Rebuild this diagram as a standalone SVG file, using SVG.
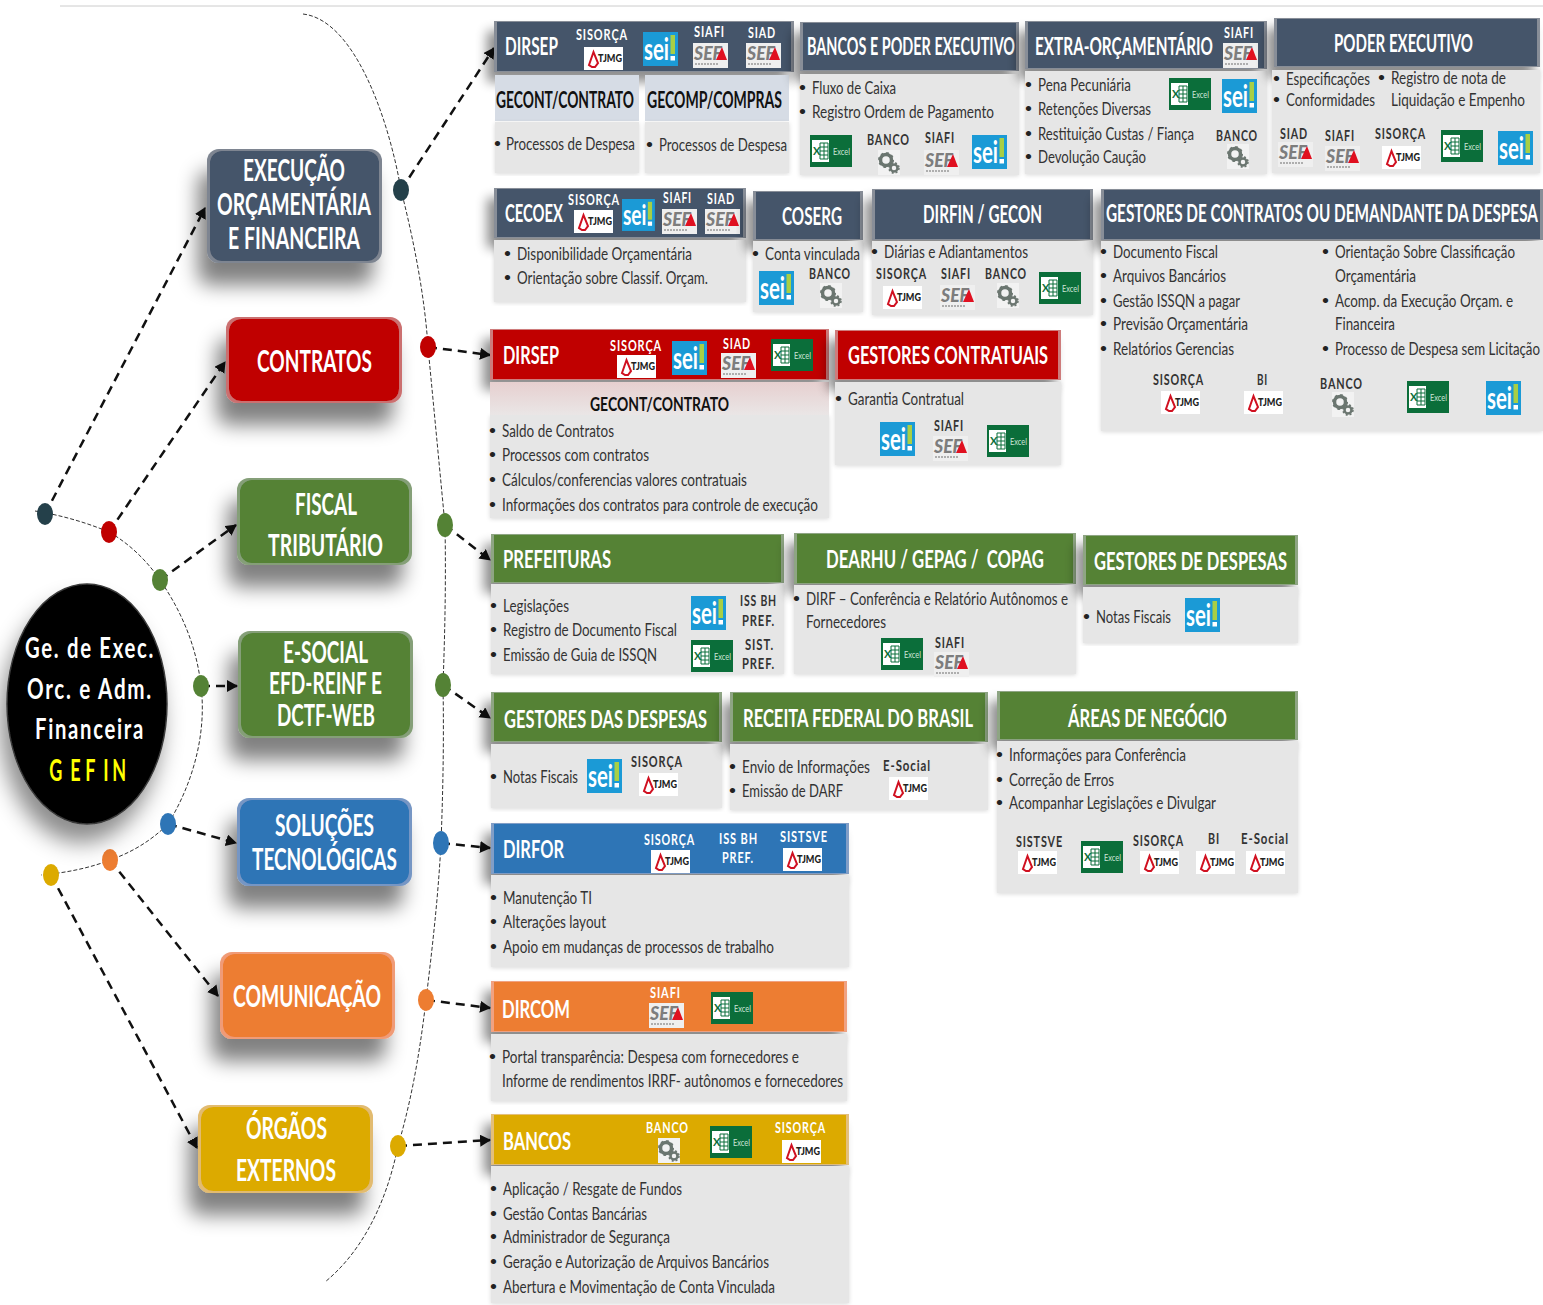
<svg xmlns="http://www.w3.org/2000/svg" width="1543" height="1305" viewBox="0 0 1543 1305">
<style>
text{font-family:Lato,"Liberation Sans",sans-serif}
.big,.h,.s,.t,.l,.lw,.c{transform-box:fill-box;transform-origin:0 100%}
.big{font-size:25px;fill:#fff;font-weight:700;transform:translateY(1px) scaleY(1.24)}
.h{font-size:19px;fill:#fff;font-weight:700;transform:translateY(1px) scaleY(1.26)}
.s{font-size:18px;fill:#111;font-weight:700;transform:translateY(1px) scaleY(1.28)}
.t{font-size:14.500px;fill:#333;transform:translateY(1px) scaleY(1.24)}
.u{font-size:12px;fill:#222;font-weight:700;transform:translate(-1px,-2px)}
.l{font-size:12.500px;fill:#333;font-weight:700;letter-spacing:1px;transform:translateY(.5px) scaleY(1.2)}
.lw{font-size:12.500px;fill:#fff;font-weight:700;letter-spacing:1px;transform:translateY(.5px) scaleY(1.2)}
.c{font-size:24px;fill:#fff;font-weight:700;letter-spacing:2px;transform:translateY(1px) scaleY(1.17)}
.g{font-size:30px;fill:#ff0;font-weight:700}
.bd{fill:#e6e6e6}
.navy{fill:#44546a}.red{fill:#c00000}.grn{fill:#548235}.blu{fill:#2e75b6}.org{fill:#ed7d31}.yel{fill:#dcaa00}
.sub{fill:#d6dce5}
.arc{fill:none;stroke:#333;stroke-width:1;stroke-dasharray:4 2}
.con{fill:none;stroke:#111;stroke-width:2.5;stroke-dasharray:9 6;marker-end:url(#ah)}
</style>
<defs>
<marker id="ah" markerUnits="userSpaceOnUse" markerWidth="12" markerHeight="14" refX="10" refY="6" orient="auto"><path d="M0 0L11 6L0 12Z" fill="#111"/></marker>
<linearGradient id="pk" x1="0" y1="0" x2="0" y2="1"><stop offset="0" stop-color="#e6cfcf"/><stop offset="1" stop-color="#eae6e6"/></linearGradient>
<filter id="sh" x="-30%" y="-30%" width="160%" height="190%">
<feMorphology in="SourceAlpha" operator="erode" radius="3 2" result="e"/><feComposite in="SourceAlpha" in2="e" operator="out" result="band"/>
<feFlood flood-color="#fff" flood-opacity=".16"/><feComposite in2="band" operator="in" result="hi"/>
<feGaussianBlur in="SourceAlpha" stdDeviation="10"/><feOffset dx="-9" dy="22"/><feComponentTransfer result="sd"><feFuncA type="linear" slope=".5"/></feComponentTransfer>
<feMerge><feMergeNode in="sd"/><feMergeNode in="SourceGraphic"/><feMergeNode in="hi"/></feMerge></filter>
<filter id="hb" x="-15%" y="-30%" width="130%" height="190%">
<feMorphology in="SourceAlpha" operator="erode" radius="3 1" result="e"/><feComposite in="SourceAlpha" in2="e" operator="out" result="band"/>
<feFlood flood-color="#fff" flood-opacity=".2"/><feComposite in2="band" operator="in" result="hi"/>
<feGaussianBlur in="SourceAlpha" stdDeviation="6"/><feOffset dx="-7" dy="10"/><feComponentTransfer result="sd"><feFuncA type="linear" slope=".45"/></feComponentTransfer>
<feMerge><feMergeNode in="sd"/><feMergeNode in="SourceGraphic"/><feMergeNode in="hi"/></feMerge></filter>
<filter id="csh" x="-30%" y="-30%" width="160%" height="160%"><feDropShadow dx="-6" dy="18" stdDeviation="11" flood-color="#000" flood-opacity=".45"/></filter>
<filter id="bs" x="-5%" y="-5%" width="110%" height="110%"><feDropShadow dx="0" dy="1" stdDeviation="2" flood-color="#000" flood-opacity=".15"/></filter>
<g id="sei"><rect width="35" height="34" fill="#1b9ad6"/><text x="1" y="28" font-size="31" font-weight="700" fill="#fff" textLength="25" lengthAdjust="spacingAndGlyphs">sei</text><rect x="27.500" y="3" width="4.500" height="19" fill="#a8cf45"/><rect x="27.500" y="24" width="4.500" height="4.500" fill="#fff"/></g>
<g id="xl"><rect width="42" height="32" fill="#0b6e3a"/><rect x="2" y="5" width="17" height="22" fill="#fff"/><path d="M10 8h8v16h-8zM10 12h8M10 16h8M10 20h8M14 8v16" fill="none" stroke="#0b6e3a" stroke-width="1"/><text x="3" y="20" font-size="11" font-weight="700" fill="#0b6e3a">X</text><text x="23" y="20" font-size="10" fill="#cfe5d8" textLength="17" lengthAdjust="spacingAndGlyphs">Excel</text></g>
<g id="sef"><rect width="35" height="25" fill="#efefef"/><text x="1" y="17" font-size="18" font-weight="900" font-style="italic" fill="#7d7d7d" textLength="28" lengthAdjust="spacingAndGlyphs">SEF</text><path d="M2 21h24" stroke="#999" stroke-width="1.500" stroke-dasharray="2 1"/><path d="M23 17L29 4L34 17Z" fill="#e01020"/></g>
<g id="tj"><rect width="39" height="23" fill="#fff"/><path d="M5 18L9.500 5L14 16L11 20H8Z" fill="none" stroke="#d01020" stroke-width="2"/><text x="14" y="15" font-size="11" font-weight="900" fill="#222" textLength="24" lengthAdjust="spacingAndGlyphs">TJMG</text></g>
<g id="ge"><rect width="22" height="25" fill="#f2f2f2"/><circle cx="8" cy="10" r="5.500" fill="none" stroke="#6b7670" stroke-width="3.500"/><circle cx="8" cy="10" r="7" fill="none" stroke="#6b7670" stroke-width="2" stroke-dasharray="2.500 3"/><circle cx="16" cy="18" r="3.500" fill="none" stroke="#6b7670" stroke-width="2.500"/><circle cx="16" cy="18" r="5" fill="none" stroke="#6b7670" stroke-width="1.500" stroke-dasharray="2 2"/></g>
</defs>
<rect width="1543" height="1305" fill="#fff"/>
<path d="M60 6H1543" stroke="#ccc" stroke-width="1"/>

<g id="connectors">
<path class="arc" d="M35 511C60 515 85 522 109 532C130 544 148 562 160 580C184 615 197 650 201 686C207 735 192 785 168 824C150 842 130 853 110 860C90 868 65 873 41 875"/>
<path class="arc" d="M303 14C355 20 389 120 401 190C415 245 425 300 428 347L445 525C446 580 445 630 443 685C444 740 443 790 441 843C438 900 432 950 426 1000C419 1060 410 1105 398 1146C385 1210 358 1255 325 1282"/>
<path class="con" d="M45 514L205 208"/>
<path class="con" d="M109 532L225 362"/>
<path class="con" d="M160 580L236 525"/>
<path class="con" d="M201 686L237 686"/>
<path class="con" d="M168 824L236 843"/>
<path class="con" d="M110 860L218 996"/>
<path class="con" d="M51 875L197 1148"/>
<path class="con" d="M401 190L494 48"/>
<path class="con" d="M428 347L490 355"/>
<path class="con" d="M445 525L490 560"/>
<path class="con" d="M443 685L490 718"/>
<path class="con" d="M441 843L490 848"/>
<path class="con" d="M426 1000L490 1008"/>
<path class="con" d="M398 1146L490 1140"/>
</g>

<g id="dots">
<ellipse cx="45" cy="514" rx="8" ry="11" fill="#24404a"/>
<ellipse cx="109" cy="532" rx="8" ry="11" fill="#c00000"/>
<ellipse cx="160" cy="580" rx="8" ry="11" fill="#548235"/>
<ellipse cx="201" cy="686" rx="8" ry="11" fill="#548235"/>
<ellipse cx="168" cy="824" rx="8" ry="11" fill="#2e75b6"/>
<ellipse cx="110" cy="860" rx="8" ry="11" fill="#ed7d31"/>
<ellipse cx="51" cy="875" rx="8" ry="11" fill="#dcaa00"/>
<ellipse cx="401" cy="190" rx="8" ry="11" fill="#24404a"/>
<ellipse cx="428" cy="347" rx="8" ry="11" fill="#c00000"/>
<ellipse cx="445" cy="525" rx="8" ry="12" fill="#548235"/>
<ellipse cx="443" cy="685" rx="8" ry="12" fill="#548235"/>
<ellipse cx="441" cy="843" rx="8" ry="12" fill="#2e75b6"/>
<ellipse cx="426" cy="1000" rx="8" ry="11" fill="#ed7d31"/>
<ellipse cx="398" cy="1146" rx="8" ry="11" fill="#dcaa00"/>
</g>

<g id="gefin">
<ellipse cx="87" cy="704" rx="80" ry="120" fill="#000" stroke="#3a3a3a" stroke-width="1.500" filter="url(#csh)"/>
<text class="c" x="25" y="658" textLength="130" lengthAdjust="spacingAndGlyphs">Ge. de Exec.</text>
<text class="c" x="27" y="699" textLength="126" lengthAdjust="spacingAndGlyphs">Orc. e Adm.</text>
<text class="c" x="35" y="739" textLength="110" lengthAdjust="spacingAndGlyphs">Financeira</text>
<text class="g" x="82 117 142 172 187" y="781" transform="scale(.6 1)">GEFIN</text>
</g>

<g id="n-execucao">
<rect class="navy" x="207" y="149" width="175" height="114" rx="12" filter="url(#sh)"/>
<text class="big" x="243" y="181" textLength="102" lengthAdjust="spacingAndGlyphs">EXECUÇÃO</text>
<text class="big" x="217" y="215" textLength="154" lengthAdjust="spacingAndGlyphs">ORÇAMENTÁRIA</text>
<text class="big" x="228" y="249" textLength="132" lengthAdjust="spacingAndGlyphs">E FINANCEIRA</text>
</g>
<g id="n-contratos">
<rect class="red" x="226" y="317" width="176" height="86" rx="12" filter="url(#sh)"/>
<text class="big" x="257" y="372" textLength="115" lengthAdjust="spacingAndGlyphs">CONTRATOS</text>
</g>
<g id="n-fiscal">
<rect class="grn" x="237" y="478" width="175" height="87" rx="12" filter="url(#sh)"/>
<text class="big" x="295" y="515" textLength="62" lengthAdjust="spacingAndGlyphs">FISCAL</text>
<text class="big" x="268" y="556" textLength="115" lengthAdjust="spacingAndGlyphs">TRIBUTÁRIO</text>
</g>
<g id="n-esocial">
<rect class="grn" x="238" y="631" width="175" height="107" rx="12" filter="url(#sh)"/>
<text class="big" x="283" y="663" textLength="85" lengthAdjust="spacingAndGlyphs">E-SOCIAL</text>
<text class="big" x="269" y="694" textLength="113" lengthAdjust="spacingAndGlyphs">EFD-REINF E</text>
<text class="big" x="277" y="726" textLength="98" lengthAdjust="spacingAndGlyphs">DCTF-WEB</text>
</g>
<g id="n-solucoes">
<rect class="blu" x="237" y="798" width="175" height="88" rx="12" filter="url(#sh)"/>
<text class="big" x="275" y="836" textLength="99" lengthAdjust="spacingAndGlyphs">SOLUÇÕES</text>
<text class="big" x="252" y="870" textLength="145" lengthAdjust="spacingAndGlyphs">TECNOLÓGICAS</text>
</g>
<g id="n-comunicacao">
<rect class="org" x="220" y="952" width="175" height="87" rx="12" filter="url(#sh)"/>
<text class="big" x="233" y="1007" textLength="148" lengthAdjust="spacingAndGlyphs">COMUNICAÇÃO</text>
</g>
<g id="n-orgaos">
<rect class="yel" x="198" y="1105" width="175" height="88" rx="12" filter="url(#sh)"/>
<text class="big" x="246" y="1139" textLength="81" lengthAdjust="spacingAndGlyphs">ÓRGÃOS</text>
<text class="big" x="236" y="1181" textLength="100" lengthAdjust="spacingAndGlyphs">EXTERNOS</text>
</g>

<g id="c-dirsep">
<rect class="navy" x="494" y="21" width="300" height="51" filter="url(#hb)"/>
<text class="h" x="505" y="55" textLength="53" lengthAdjust="spacingAndGlyphs">DIRSEP</text>
<text class="lw" x="576" y="40" textLength="52" lengthAdjust="spacingAndGlyphs">SISORÇA</text><use href="#tj" x="584" y="47"/>
<use href="#sei" x="643" y="32"/>
<text class="lw" x="694" y="37" textLength="31" lengthAdjust="spacingAndGlyphs">SIAFI</text><use href="#sef" x="693" y="43"/>
<text class="lw" x="748" y="38" textLength="28" lengthAdjust="spacingAndGlyphs">SIAD</text><use href="#sef" x="746" y="43"/>
<rect class="sub" x="495" y="75" width="144" height="46"/><rect class="bd" x="495" y="122" width="144" height="51" filter="url(#bs)"/>
<text class="s" x="496" y="108" textLength="138" lengthAdjust="spacingAndGlyphs">GECONT/CONTRATO</text>
<text class="u" x="495" y="149">•</text><text class="t" x="506" y="150" textLength="129" lengthAdjust="spacingAndGlyphs">Processos de Despesa</text>
<rect class="sub" x="645" y="75" width="144" height="46"/><rect class="bd" x="645" y="122" width="144" height="51" filter="url(#bs)"/>
<text class="s" x="647" y="108" textLength="135" lengthAdjust="spacingAndGlyphs">GECOMP/COMPRAS</text>
<text class="u" x="647" y="150">•</text><text class="t" x="659" y="151" textLength="128" lengthAdjust="spacingAndGlyphs">Processos de Despesa</text>
</g>

<g id="c-bancos-pe">
<rect class="navy" x="800" y="22" width="219" height="49" filter="url(#hb)"/>
<rect class="bd" x="800" y="74" width="219" height="101" filter="url(#bs)"/>
<text class="h" x="807" y="55" textLength="208" lengthAdjust="spacingAndGlyphs">BANCOS E PODER EXECUTIVO</text>
<text class="u" x="800" y="93">•</text><text class="t" x="812" y="94" textLength="84" lengthAdjust="spacingAndGlyphs">Fluxo de Caixa</text>
<text class="u" x="800" y="117">•</text><text class="t" x="812" y="118" textLength="182" lengthAdjust="spacingAndGlyphs">Registro Ordem de Pagamento</text>
<use href="#xl" x="810" y="135"/>
<text class="l" x="867" y="145" textLength="43" lengthAdjust="spacingAndGlyphs">BANCO</text><use href="#ge" x="878" y="150"/>
<text class="l" x="925" y="143" textLength="30" lengthAdjust="spacingAndGlyphs">SIAFI</text><use href="#sef" x="924" y="150"/>
<use href="#sei" x="972" y="135"/>
</g>

<g id="c-extra">
<rect class="navy" x="1025" y="21" width="242" height="48" filter="url(#hb)"/>
<rect class="bd" x="1025" y="71" width="242" height="103" filter="url(#bs)"/>
<text class="h" x="1035" y="55" textLength="178" lengthAdjust="spacingAndGlyphs">EXTRA-ORÇAMENTÁRIO</text>
<text class="lw" x="1224" y="38" textLength="30" lengthAdjust="spacingAndGlyphs">SIAFI</text><use href="#sef" x="1223" y="43"/>
<text class="u" x="1026" y="90">•</text><text class="t" x="1038" y="91" textLength="93" lengthAdjust="spacingAndGlyphs">Pena Pecuniária</text>
<text class="u" x="1026" y="114">•</text><text class="t" x="1038" y="115" textLength="113" lengthAdjust="spacingAndGlyphs">Retenções Diversas</text>
<text class="u" x="1026" y="139">•</text><text class="t" x="1038" y="140" textLength="156" lengthAdjust="spacingAndGlyphs">Restituição Custas / Fiança</text>
<text class="u" x="1026" y="162">•</text><text class="t" x="1038" y="163" textLength="108" lengthAdjust="spacingAndGlyphs">Devolução Caução</text>
<use href="#xl" x="1169" y="78"/><use href="#sei" x="1222" y="79"/>
<text class="l" x="1216" y="141" textLength="42" lengthAdjust="spacingAndGlyphs">BANCO</text><use href="#ge" x="1227" y="144"/>
</g>

<g id="c-poder">
<rect class="navy" x="1274" y="18" width="266" height="49" filter="url(#hb)"/>
<rect class="bd" x="1272" y="70" width="268" height="103" filter="url(#bs)"/>
<text class="h" x="1334" y="52" textLength="139" lengthAdjust="spacingAndGlyphs">PODER EXECUTIVO</text>
<text class="u" x="1274" y="84">•</text><text class="t" x="1286" y="85" textLength="84" lengthAdjust="spacingAndGlyphs">Especificações</text>
<text class="u" x="1274" y="105">•</text><text class="t" x="1286" y="106" textLength="89" lengthAdjust="spacingAndGlyphs">Conformidades</text>
<text class="u" x="1379" y="83">•</text><text class="t" x="1391" y="84" textLength="115" lengthAdjust="spacingAndGlyphs">Registro de nota de</text>
<text class="t" x="1391" y="106" textLength="134" lengthAdjust="spacingAndGlyphs">Liquidação e Empenho</text>
<text class="l" x="1280" y="139" textLength="28" lengthAdjust="spacingAndGlyphs">SIAD</text><use href="#sef" x="1278" y="142"/>
<text class="l" x="1325" y="141" textLength="30" lengthAdjust="spacingAndGlyphs">SIAFI</text><use href="#sef" x="1325" y="146"/>
<text class="l" x="1375" y="139" textLength="51" lengthAdjust="spacingAndGlyphs">SISORÇA</text><use href="#tj" x="1382" y="146"/>
<use href="#xl" x="1441" y="130"/><use href="#sei" x="1498" y="131"/>
</g>

<g id="c-cecoex">
<rect class="navy" x="494" y="188" width="252" height="50" filter="url(#hb)"/>
<rect class="bd" x="494" y="240" width="252" height="62" filter="url(#bs)"/>
<text class="h" x="505" y="222" textLength="58" lengthAdjust="spacingAndGlyphs">CECOEX</text>
<text class="lw" x="568" y="205" textLength="52" lengthAdjust="spacingAndGlyphs">SISORÇA</text><use href="#tj" x="574" y="210"/>
<use href="#sei" transform="translate(622 199) scale(.94)"/>
<text class="lw" x="663" y="203" textLength="29" lengthAdjust="spacingAndGlyphs">SIAFI</text><use href="#sef" x="662" y="209"/>
<text class="lw" x="707" y="204" textLength="28" lengthAdjust="spacingAndGlyphs">SIAD</text><use href="#sef" x="705" y="209"/>
<text class="u" x="505" y="259">•</text><text class="t" x="517" y="260" textLength="175" lengthAdjust="spacingAndGlyphs">Disponibilidade Orçamentária</text>
<text class="u" x="505" y="283">•</text><text class="t" x="517" y="284" textLength="191" lengthAdjust="spacingAndGlyphs">Orientação sobre Classif. Orçam.</text>
</g>

<g id="c-coserg">
<rect class="navy" x="753" y="191" width="110" height="49" filter="url(#hb)"/>
<rect class="bd" x="753" y="241" width="110" height="71" filter="url(#bs)"/>
<text class="h" x="782" y="225" textLength="60" lengthAdjust="spacingAndGlyphs">COSERG</text>
<text class="u" x="753" y="259">•</text><text class="t" x="765" y="260" textLength="95" lengthAdjust="spacingAndGlyphs">Conta vinculada</text>
<use href="#sei" x="759" y="271"/>
<text class="l" x="809" y="279" textLength="42" lengthAdjust="spacingAndGlyphs">BANCO</text><use href="#ge" x="820" y="283"/>
</g>

<g id="c-dirfin">
<rect class="navy" x="872" y="189" width="221" height="51" filter="url(#hb)"/>
<rect class="bd" x="872" y="241" width="221" height="74" filter="url(#bs)"/>
<text class="h" x="923" y="223" textLength="119" lengthAdjust="spacingAndGlyphs">DIRFIN / GECON</text>
<text class="u" x="872" y="257">•</text><text class="t" x="884" y="258" textLength="144" lengthAdjust="spacingAndGlyphs">Diárias e Adiantamentos</text>
<text class="l" x="876" y="279" textLength="51" lengthAdjust="spacingAndGlyphs">SISORÇA</text><use href="#tj" x="883" y="286"/>
<text class="l" x="941" y="279" textLength="30" lengthAdjust="spacingAndGlyphs">SIAFI</text><use href="#sef" x="940" y="285"/>
<text class="l" x="985" y="279" textLength="42" lengthAdjust="spacingAndGlyphs">BANCO</text><use href="#ge" x="997" y="283"/>
<use href="#xl" x="1039" y="272"/>
</g>

<g id="c-gestores-contratos">
<rect class="navy" x="1101" y="189" width="442" height="51" filter="url(#hb)"/>
<rect class="bd" x="1101" y="241" width="442" height="190" filter="url(#bs)"/>
<text class="h" x="1106" y="222" textLength="432" lengthAdjust="spacingAndGlyphs">GESTORES DE CONTRATOS OU DEMANDANTE DA DESPESA</text>
<text class="u" x="1101" y="257">•</text><text class="t" x="1113" y="258" textLength="105" lengthAdjust="spacingAndGlyphs">Documento Fiscal</text>
<text class="u" x="1101" y="281">•</text><text class="t" x="1113" y="282" textLength="113" lengthAdjust="spacingAndGlyphs">Arquivos Bancários</text>
<text class="u" x="1101" y="306">•</text><text class="t" x="1113" y="307" textLength="127" lengthAdjust="spacingAndGlyphs">Gestão ISSQN a pagar</text>
<text class="u" x="1101" y="329">•</text><text class="t" x="1113" y="330" textLength="135" lengthAdjust="spacingAndGlyphs">Previsão Orçamentária</text>
<text class="u" x="1101" y="354">•</text><text class="t" x="1113" y="355" textLength="121" lengthAdjust="spacingAndGlyphs">Relatórios Gerencias</text>
<text class="u" x="1323" y="257">•</text><text class="t" x="1335" y="258" textLength="180" lengthAdjust="spacingAndGlyphs">Orientação Sobre Classificação</text>
<text class="t" x="1335" y="282" textLength="81" lengthAdjust="spacingAndGlyphs">Orçamentária</text>
<text class="u" x="1323" y="306">•</text><text class="t" x="1335" y="307" textLength="178" lengthAdjust="spacingAndGlyphs">Acomp. da Execução Orçam. e</text>
<text class="t" x="1335" y="330" textLength="60" lengthAdjust="spacingAndGlyphs">Financeira</text>
<text class="u" x="1323" y="354">•</text><text class="t" x="1335" y="355" textLength="205" lengthAdjust="spacingAndGlyphs">Processo de Despesa sem Licitação</text>
<text class="l" x="1153" y="385" textLength="51" lengthAdjust="spacingAndGlyphs">SISORÇA</text><use href="#tj" x="1161" y="391"/>
<text class="l" x="1257" y="385" textLength="11" lengthAdjust="spacingAndGlyphs">BI</text><use href="#tj" x="1244" y="391"/>
<text class="l" x="1320" y="389" textLength="43" lengthAdjust="spacingAndGlyphs">BANCO</text><use href="#ge" x="1332" y="392"/>
<use href="#xl" x="1407" y="381"/><use href="#sei" x="1486" y="381"/>
</g>

<g id="c-dirsep-red">
<rect class="red" x="490" y="329" width="339" height="51" filter="url(#hb)"/>
<rect class="bd" x="490" y="415" width="339" height="103" filter="url(#bs)"/>
<rect x="490" y="382" width="339" height="33" fill="url(#pk)"/>
<text class="h" x="503" y="364" textLength="56" lengthAdjust="spacingAndGlyphs">DIRSEP</text>
<text class="lw" x="610" y="351" textLength="52" lengthAdjust="spacingAndGlyphs">SISORÇA</text><use href="#tj" x="617" y="355"/>
<use href="#sei" x="672" y="341"/>
<text class="lw" x="723" y="349" textLength="28" lengthAdjust="spacingAndGlyphs">SIAD</text><use href="#sef" x="721" y="353"/>
<use href="#xl" x="771" y="339"/>
<text class="s" x="590" y="411" textLength="139" lengthAdjust="spacingAndGlyphs" style="font-size:15px">GECONT/CONTRATO</text>
<text class="u" x="490" y="436">•</text><text class="t" x="502" y="437" textLength="112" lengthAdjust="spacingAndGlyphs">Saldo de Contratos</text>
<text class="u" x="490" y="460">•</text><text class="t" x="502" y="461" textLength="147" lengthAdjust="spacingAndGlyphs">Processos com contratos</text>
<text class="u" x="490" y="485">•</text><text class="t" x="502" y="486" textLength="245" lengthAdjust="spacingAndGlyphs">Cálculos/conferencias valores contratuais</text>
<text class="u" x="490" y="510">•</text><text class="t" x="502" y="511" textLength="316" lengthAdjust="spacingAndGlyphs">Informações dos contratos para controle de execução</text>
</g>

<g id="c-gestores-contratuais">
<rect class="red" x="835" y="330" width="226" height="50" filter="url(#hb)"/>
<rect class="bd" x="835" y="382" width="226" height="83" filter="url(#bs)"/>
<text class="h" x="848" y="364" textLength="200" lengthAdjust="spacingAndGlyphs">GESTORES CONTRATUAIS</text>
<text class="u" x="836" y="404">•</text><text class="t" x="848" y="405" textLength="116" lengthAdjust="spacingAndGlyphs">Garantia Contratual</text>
<use href="#sei" x="880" y="422"/>
<text class="l" x="934" y="431" textLength="30" lengthAdjust="spacingAndGlyphs">SIAFI</text><use href="#sef" x="933" y="436"/>
<use href="#xl" x="987" y="425"/>
</g>

<g id="c-prefeituras">
<rect class="grn" x="491" y="534" width="293" height="49" filter="url(#hb)"/>
<rect class="bd" x="491" y="584" width="293" height="90" filter="url(#bs)"/>
<text class="h" x="503" y="568" textLength="108" lengthAdjust="spacingAndGlyphs">PREFEITURAS</text>
<text class="u" x="491" y="611">•</text><text class="t" x="503" y="612" textLength="66" lengthAdjust="spacingAndGlyphs">Legislações</text>
<text class="u" x="491" y="635">•</text><text class="t" x="503" y="636" textLength="174" lengthAdjust="spacingAndGlyphs">Registro de Documento Fiscal</text>
<text class="u" x="491" y="660">•</text><text class="t" x="503" y="661" textLength="154" lengthAdjust="spacingAndGlyphs">Emissão de Guia de ISSQN</text>
<use href="#sei" x="691" y="596"/><use href="#xl" x="691" y="640"/>
<text class="l" x="740" y="606" textLength="37" lengthAdjust="spacingAndGlyphs">ISS BH</text>
<text class="l" x="742" y="626" textLength="33" lengthAdjust="spacingAndGlyphs">PREF.</text>
<text class="l" x="745" y="650" textLength="29" lengthAdjust="spacingAndGlyphs">SIST.</text>
<text class="l" x="742" y="669" textLength="33" lengthAdjust="spacingAndGlyphs">PREF.</text>
</g>

<g id="c-dearhu">
<rect class="grn" x="794" y="533" width="282" height="51" filter="url(#hb)"/>
<rect class="bd" x="794" y="585" width="282" height="89" filter="url(#bs)"/>
<text class="h" x="826" y="568" textLength="218" lengthAdjust="spacingAndGlyphs" xml:space="preserve">DEARHU / GEPAG /  COPAG</text>
<text class="u" x="794" y="604">•</text><text class="t" x="806" y="605" textLength="262" lengthAdjust="spacingAndGlyphs">DIRF – Conferência e Relatório Autônomos e</text>
<text class="t" x="806" y="628" textLength="80" lengthAdjust="spacingAndGlyphs">Fornecedores</text>
<use href="#xl" x="881" y="638"/>
<text class="l" x="935" y="648" textLength="30" lengthAdjust="spacingAndGlyphs">SIAFI</text><use href="#sef" x="934" y="652"/>
</g>

<g id="c-gestores-despesas">
<rect class="grn" x="1083" y="535" width="215" height="50" filter="url(#hb)"/>
<rect class="bd" x="1083" y="587" width="215" height="56" filter="url(#bs)"/>
<text class="h" x="1094" y="570" textLength="193" lengthAdjust="spacingAndGlyphs">GESTORES DE DESPESAS</text>
<text class="u" x="1084" y="622">•</text><text class="t" x="1096" y="623" textLength="75" lengthAdjust="spacingAndGlyphs">Notas Fiscais</text>
<use href="#sei" x="1185" y="598"/>
</g>

<g id="c-gestores-das">
<rect class="grn" x="491" y="692" width="231" height="50" filter="url(#hb)"/>
<rect class="bd" x="491" y="744" width="231" height="64" filter="url(#bs)"/>
<text class="h" x="504" y="728" textLength="203" lengthAdjust="spacingAndGlyphs">GESTORES DAS DESPESAS</text>
<text class="u" x="491" y="782">•</text><text class="t" x="503" y="783" textLength="75" lengthAdjust="spacingAndGlyphs">Notas Fiscais</text>
<use href="#sei" x="587" y="759"/>
<text class="l" x="631" y="767" textLength="52" lengthAdjust="spacingAndGlyphs">SISORÇA</text><use href="#tj" x="639" y="773"/>
</g>

<g id="c-receita">
<rect class="grn" x="730" y="692" width="258" height="50" filter="url(#hb)"/>
<rect class="bd" x="730" y="744" width="258" height="66" filter="url(#bs)"/>
<text class="h" x="743" y="727" textLength="230" lengthAdjust="spacingAndGlyphs">RECEITA FEDERAL DO BRASIL</text>
<text class="u" x="730" y="772">•</text><text class="t" x="742" y="773" textLength="128" lengthAdjust="spacingAndGlyphs">Envio de Informações</text>
<text class="u" x="730" y="796">•</text><text class="t" x="742" y="797" textLength="101" lengthAdjust="spacingAndGlyphs">Emissão de DARF</text>
<text class="l" x="883" y="771" textLength="48" lengthAdjust="spacingAndGlyphs">E-Social</text><use href="#tj" x="889" y="777"/>
</g>

<g id="c-areas">
<rect class="grn" x="997" y="691" width="301" height="49" filter="url(#hb)"/>
<rect class="bd" x="997" y="741" width="301" height="152" filter="url(#bs)"/>
<text class="h" x="1068" y="727" textLength="159" lengthAdjust="spacingAndGlyphs">ÁREAS DE NEGÓCIO</text>
<text class="u" x="997" y="760">•</text><text class="t" x="1009" y="761" textLength="177" lengthAdjust="spacingAndGlyphs">Informações para Conferência</text>
<text class="u" x="997" y="785">•</text><text class="t" x="1009" y="786" textLength="105" lengthAdjust="spacingAndGlyphs">Correção de Erros</text>
<text class="u" x="997" y="808">•</text><text class="t" x="1009" y="809" textLength="207" lengthAdjust="spacingAndGlyphs">Acompanhar Legislações e Divulgar</text>
<text class="l" x="1016" y="847" textLength="47" lengthAdjust="spacingAndGlyphs">SISTSVE</text><use href="#tj" x="1018" y="851"/>
<use href="#xl" x="1081" y="841"/>
<text class="l" x="1133" y="846" textLength="51" lengthAdjust="spacingAndGlyphs">SISORÇA</text><use href="#tj" x="1140" y="851"/>
<text class="l" x="1208" y="844" textLength="12" lengthAdjust="spacingAndGlyphs">BI</text><use href="#tj" x="1196" y="851"/>
<text class="l" x="1241" y="844" textLength="48" lengthAdjust="spacingAndGlyphs">E-Social</text><use href="#tj" x="1246" y="851"/>
</g>

<g id="c-dirfor">
<rect class="blu" x="491" y="823" width="358" height="51" filter="url(#hb)"/>
<rect class="bd" x="491" y="875" width="358" height="92" filter="url(#bs)"/>
<text class="h" x="503" y="858" textLength="61" lengthAdjust="spacingAndGlyphs">DIRFOR</text>
<text class="lw" x="644" y="845" textLength="51" lengthAdjust="spacingAndGlyphs">SISORÇA</text><use href="#tj" x="651" y="850"/>
<text class="lw" x="719" y="844" textLength="39" lengthAdjust="spacingAndGlyphs">ISS BH</text>
<text class="lw" x="722" y="863" textLength="32" lengthAdjust="spacingAndGlyphs">PREF.</text>
<text class="lw" x="780" y="842" textLength="48" lengthAdjust="spacingAndGlyphs">SISTSVE</text><use href="#tj" x="783" y="848"/>
<text class="u" x="491" y="903">•</text><text class="t" x="503" y="904" textLength="89" lengthAdjust="spacingAndGlyphs">Manutenção TI</text>
<text class="u" x="491" y="927">•</text><text class="t" x="503" y="928" textLength="103" lengthAdjust="spacingAndGlyphs">Alterações layout</text>
<text class="u" x="491" y="952">•</text><text class="t" x="503" y="953" textLength="271" lengthAdjust="spacingAndGlyphs">Apoio em mudanças de processos de trabalho</text>
</g>

<g id="c-dircom">
<rect class="org" x="491" y="981" width="356" height="51" filter="url(#hb)"/>
<rect class="bd" x="491" y="1034" width="356" height="67" filter="url(#bs)"/>
<text class="h" x="502" y="1018" textLength="68" lengthAdjust="spacingAndGlyphs">DIRCOM</text>
<text class="lw" x="650" y="998" textLength="31" lengthAdjust="spacingAndGlyphs">SIAFI</text><use href="#sef" x="649" y="1003"/>
<use href="#xl" x="711" y="992"/>
<text class="u" x="490" y="1062">•</text><text class="t" x="502" y="1063" textLength="297" lengthAdjust="spacingAndGlyphs">Portal transparência: Despesa com fornecedores e</text>
<text class="t" x="502" y="1087" textLength="341" lengthAdjust="spacingAndGlyphs">Informe de rendimentos IRRF- autônomos e fornecedores</text>
</g>

<g id="c-bancos">
<rect class="yel" x="491" y="1114" width="358" height="51" filter="url(#hb)"/>
<rect class="bd" x="491" y="1166" width="358" height="137" filter="url(#bs)"/>
<text class="h" x="503" y="1150" textLength="68" lengthAdjust="spacingAndGlyphs">BANCOS</text>
<text class="lw" x="646" y="1133" textLength="43" lengthAdjust="spacingAndGlyphs">BANCO</text><use href="#ge" x="658" y="1138"/>
<use href="#xl" x="710" y="1126"/>
<text class="lw" x="775" y="1133" textLength="51" lengthAdjust="spacingAndGlyphs">SISORÇA</text><use href="#tj" x="782" y="1140"/>
<text class="u" x="491" y="1194">•</text><text class="t" x="503" y="1195" textLength="179" lengthAdjust="spacingAndGlyphs">Aplicação / Resgate de Fundos</text>
<text class="u" x="491" y="1219">•</text><text class="t" x="503" y="1220" textLength="144" lengthAdjust="spacingAndGlyphs">Gestão Contas Bancárias</text>
<text class="u" x="491" y="1242">•</text><text class="t" x="503" y="1243" textLength="167" lengthAdjust="spacingAndGlyphs">Administrador de Segurança</text>
<text class="u" x="491" y="1267">•</text><text class="t" x="503" y="1268" textLength="266" lengthAdjust="spacingAndGlyphs">Geração e Autorização de Arquivos Bancários</text>
<text class="u" x="491" y="1292">•</text><text class="t" x="503" y="1293" textLength="272" lengthAdjust="spacingAndGlyphs">Abertura e Movimentação de Conta Vinculada</text>
</g>
</svg>
